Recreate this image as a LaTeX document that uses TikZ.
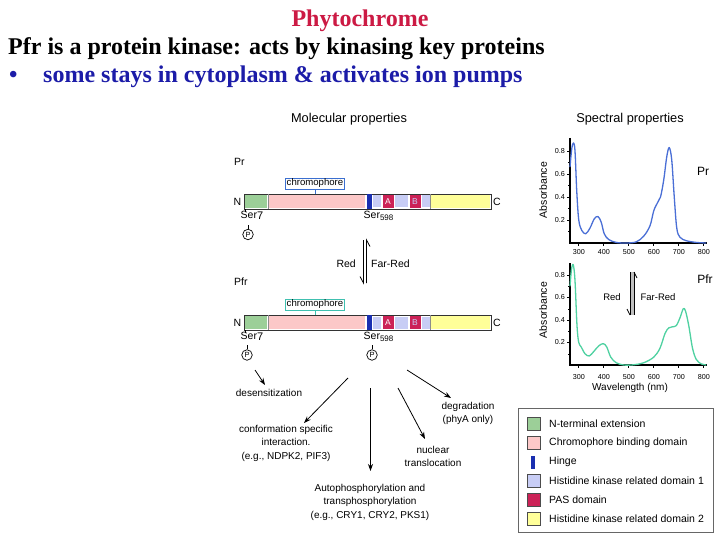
\documentclass[tikz,border=0pt]{standalone}
\usepackage{fontspec}
\setmainfont{Liberation Serif}
\setsansfont{Liberation Sans}
\usetikzlibrary{arrows.meta}
\definecolor{phyred}{HTML}{CC1A44}
\definecolor{navytxt}{HTML}{1C1CA8}
\definecolor{ntgreen}{HTML}{9CCF98}
\definecolor{cbpink}{HTML}{FCC8C8}
\definecolor{hingeblue}{HTML}{1A2FB0}
\definecolor{hklight}{HTML}{C8CDF5}
\definecolor{pascrim}{HTML}{CC2257}
\definecolor{hkyellow}{HTML}{FFFF99}
\definecolor{prblue}{HTML}{4A6FD6}
\definecolor{pfrgreen}{HTML}{4FD1A1}
\definecolor{chromblue}{HTML}{3B6FD0}
\definecolor{chromteal}{HTML}{40C0B0}
\tikzset{
  lab/.style={font=\sffamily\fontsize{10.5}{12}\selectfont, inner sep=0pt},
  labs/.style={font=\sffamily\fontsize{10}{13.5}\selectfont, inner sep=0pt, align=center},
  ttl/.style={font=\sffamily\fontsize{12.8}{14}\selectfont, inner sep=0pt},
  tick/.style={font=\sffamily\fontsize{7.2}{8}\selectfont, inner sep=0pt},
  barframe/.style={draw=black!80, line width=0.9pt, fill=white},
  pcirc/.style={draw=black, circle, minimum size=10.5pt, inner sep=0pt, font=\sffamily\fontsize{7.5}{8}\selectfont, line width=0.7pt},
  effect/.style={-{Stealth[length=7pt,width=5pt]}, line width=0.8pt, black},
  curve/.style={line width=1.3pt, line join=round},
  axis/.style={line width=1.1pt, black},
  legsw/.style={draw=black!70, line width=0.6pt},
}
\begin{document}
\begin{tikzpicture}[x=1pt,y=-1pt]
\useasboundingbox[fill=white] (0,0) rectangle (720,540);

% ---- header text
\node[anchor=base, font=\bfseries\fontsize{24}{28}\selectfont, text=phyred, inner sep=0] (title) at (360,27) {Phytochrome};
\node[anchor=base west, font=\bfseries\fontsize{24}{28}\selectfont, inner sep=0] (line1) at (8,55) {Pfr is a protein kinase: acts by kinasing key proteins};
\node[anchor=base west, font=\bfseries\fontsize{24}{28}\selectfont, text=navytxt, inner sep=0] (bullet) at (9,83) {\textbullet};
\node[anchor=base west, font=\bfseries\fontsize{24}{28}\selectfont, text=navytxt, inner sep=0] (line2) at (43,83) {some stays in cytoplasm \& activates ion pumps};

% ---- molecular properties
\node[ttl] (molt) at (349,119) {Molecular properties};
\node[lab, anchor=west] (prlab) at (234,162) {Pr};
\node[lab, anchor=west] (pfrlab) at (234,282) {Pfr};

\foreach \yt/\nm/\cc in {194/pr/chromblue, 315/pfr/chromteal}{
  \pgfmathsetmacro{\yb}{\yt+15}
  \draw[barframe] (244,\yt) rectangle (491,\yb);
  \fill[ntgreen]   (245,\yt+1) rectangle (267,\yb-1);
  \draw[black!45, line width=0.5pt] (268,\yt) -- (268,\yb);
  \fill[cbpink]    (269,\yt+1) rectangle (365,\yb-1);
  \fill[hingeblue] (367,\yt) rectangle (371.5,\yb);
  \fill[hklight]   (373,\yt+1.5) rectangle (380.5,\yb-1.5);
  \fill[pascrim]   (382.5,\yt+1) rectangle (393.5,\yb-1);
  \node[font=\sffamily\fontsize{8.5}{9}\selectfont, text=white, inner sep=0] (\nm A) at (388,\yt+7.5) {A};
  \fill[hklight]   (395,\yt+1.5) rectangle (408,\yb-1.5);
  \fill[pascrim]   (409.5,\yt+1) rectangle (420.5,\yb-1);
  \node[font=\sffamily\fontsize{8.5}{9}\selectfont, text=hklight, inner sep=0] (\nm B) at (415,\yt+7.5) {B};
  \fill[hklight]   (422,\yt+1.5) rectangle (429.5,\yb-1.5);
  \draw[black!45, line width=0.5pt] (430.3,\yt) -- (430.3,\yb);
  \fill[hkyellow]  (431,\yt+1) rectangle (490,\yb-1);
  \node[lab, anchor=center] (\nm N) at (237.5,\yt+7.5) {N};
  \node[lab, anchor=center] (\nm C) at (497,\yt+7.5) {C};
  \node[draw=\cc, line width=0.9pt, fill=white, inner xsep=1.5pt, inner ysep=1pt,
        font=\sffamily\fontsize{9.6}{10}\selectfont] (\nm chr) at (315,\yt-10.5) {chromophore};
  \coordinate (\nm bartop) at (315,\yt);
  \draw[\cc, line width=0.9pt] (\nm chr.south) -- (\nm bartop);
  \node[lab, anchor=north west] (\nm ser7) at (240.5,\yt+16.5) {Ser\raisebox{-0.35ex}{\fontsize{11}{11}\selectfont 7}};
  \node[lab, anchor=north west] (\nm ser598) at (363.5,\yt+16.5) {Ser\raisebox{-0.45ex}{\fontsize{8}{8}\selectfont 598}};
  \draw[black, line width=0.6pt] (245,\yb) -- (245,\yt+18);
}
% phosphates
\node[pcirc] (pP7) at (248,234.5) {P};
\draw[line width=0.6pt] (pP7.north) -- ++(0,-4);
\node[pcirc] (pfrP7) at (247,355) {P};
\draw[line width=0.6pt] (pfrP7.north) -- ++(0,-4);
\node[pcirc] (pfrP598) at (372,355) {P};
\draw[line width=0.6pt] (pfrP598.north) -- ++(0,-4);

% red / far-red conversion
\coordinate (cvtop) at (365,240);
\coordinate (cvbot) at (365,283);
\draw[line width=0.8pt] (363.5,240) -- (363.5,283) -- (360,276.5);
\draw[line width=0.8pt] (366.5,283) -- (366.5,240) -- (370,246.5);
\node[lab, anchor=east] (redl) at (356,264) {Red};
\node[lab, anchor=west] (farl) at (371,264) {Far-Red};

% ---- downstream effects
\coordinate (e1s) at (255,370); \coordinate (e1e) at (265,385);
\coordinate (e2s) at (348,378); \coordinate (e2e) at (304,423);
\coordinate (e3s) at (370.5,388); \coordinate (e3e) at (370.5,471);
\coordinate (e4s) at (398,388); \coordinate (e4e) at (425,439);
\coordinate (e5s) at (407,370); \coordinate (e5e) at (451,398);
\draw[effect] (e1s) -- (e1e);
\draw[effect] (e2s) -- (e2e);
\draw[effect] (e3s) -- (e3e);
\draw[effect] (e4s) -- (e4e);
\draw[effect] (e5s) -- (e5e);
\node[labs] (desens) at (269,393) {desensitization};
\node[labs] (conf) at (286,443) {conformation specific\\interaction.\\(e.g., NDPK2, PIF3)};
\node[labs] (auto) at (370,502) {Autophosphorylation and\\transphosphorylation\\(e.g., CRY1, CRY2, PKS1)};
\node[labs] (nuc) at (433,456.5) {nuclear\\translocation};
\node[labs] (degr) at (468,413.5) {degradation\\(phyA only)};

% ---- legend
\draw[black!60, line width=0.8pt] (518,408) rectangle (713,532);
\foreach \yy/\col/\txt/\nm in {424/ntgreen/N-terminal extension/lg1,
                             443/cbpink/Chromophore binding domain/lg2,
                             481/hklight/Histidine kinase related domain 1/lg4,
                             500/pascrim/PAS domain/lg5,
                             519/hkyellow/Histidine kinase related domain 2/lg6}{
  \fill[\col] (527,\yy-6.5) rectangle (540,\yy+6.5);
  \draw[legsw] (527,\yy-6.5) rectangle (540,\yy+6.5);
  \node[lab, anchor=west] (\nm) at (549,\yy) {\txt};
}
\fill[hingeblue] (530.5,455.5) rectangle (534.5,468.5);
\node[lab, anchor=west] (lg3) at (549,462) {Hinge};

% ---- spectral properties
\node[ttl] (spt) at (630,119) {Spectral properties};
% Pr spectrum
\draw[axis] (570,138) -- (570,243) -- (707,243);
\foreach \a/\yy in {0.8/151, 0.6/174, 0.4/197, 0.2/220}{
  \draw[line width=0.6pt] (567,\yy) -- (570,\yy);
  \node[tick, anchor=east] at (565,\yy) {\a};
}
\foreach \a/\yy in {0.7/162.5, 0.5/185.5, 0.3/208.5, 0.1/231.5}{\draw[line width=0.6pt] (568,\yy) -- (570,\yy);}
\foreach \w in {300,400,500,600,700,800}{
  \pgfmathsetmacro{\xx}{570+(\w-265)/4}
  \draw[line width=0.6pt] (\xx,243) -- (\xx,246);
  \node[tick] at (\xx,252) {\w};
}
\node[lab, rotate=90] (absPr) at (543,190) {Absorbance};
\node[font=\sffamily\fontsize{12}{13}\selectfont, inner sep=0] (prspec) at (703,171) {Pr};
\begin{scope}[shift={(503.75pt,-243pt)}, x=0.25pt, y=115pt]
\draw[curve, prblue] plot[smooth, tension=0.55] coordinates {
 (265,0.66) (272,0.82) (279,0.87) (285,0.8) (292,0.45) (300,0.2) (312,0.11) (328,0.08)
 (345,0.13) (362,0.21) (377,0.23) (390,0.18) (402,0.08) (420,0.03) (450,0.005) (490,0)
 (530,0.01) (560,0.06) (585,0.15) (600,0.28) (615,0.35) (627,0.4) (640,0.55) (652,0.75)
 (662,0.83) (672,0.72) (682,0.4) (692,0.13) (705,0.05) (730,0.02) (770,0.005) (810,0)};
\end{scope}

% Pfr spectrum
\draw[axis] (570,263) -- (570,365) -- (707,365);
\foreach \a/\yy in {0.8/275, 0.6/297.5, 0.4/320, 0.2/342.5}{
  \draw[line width=0.6pt] (567,\yy) -- (570,\yy);
  \node[tick, anchor=east] at (565,\yy) {\a};
}
\foreach \a/\yy in {0.7/286, 0.5/309, 0.3/331, 0.1/354}{\draw[line width=0.6pt] (568,\yy) -- (570,\yy);}
\foreach \w in {300,400,500,600,700,800}{
  \pgfmathsetmacro{\xx}{570+(\w-265)/4}
  \draw[line width=0.6pt] (\xx,365) -- (\xx,368);
  \node[tick] at (\xx,377) {\w};
}
\node[lab, rotate=90] (absPfr) at (543,310) {Absorbance};
\node[font=\sffamily\fontsize{10}{11}\selectfont, inner sep=0] (wl) at (630,388) {Wavelength (nm)};
\node[font=\sffamily\fontsize{12}{13}\selectfont, inner sep=0] (pfrspec) at (705,279) {Pfr};
\begin{scope}[shift={(503.75pt,-365pt)}, x=0.25pt, y=112.5pt]
\draw[curve, pfrgreen] plot[smooth, tension=0.55] coordinates {
 (265,0.7) (271,0.85) (278,0.89) (285,0.75) (293,0.35) (300,0.2) (310,0.16) (325,0.1)
 (342,0.08) (360,0.12) (380,0.17) (398,0.19) (412,0.16) (428,0.07) (450,0.02) (480,0)
 (520,0.002) (560,0.02) (600,0.07) (625,0.15) (645,0.28) (660,0.33) (675,0.34) (690,0.35)
 (705,0.42) (718,0.5) (727,0.48) (740,0.35) (755,0.15) (770,0.05) (790,0.01) (810,0)};
\end{scope}
% conversion arrow in spectrum
\fill[black!25] (630.5,272) rectangle (633.5,315);
\draw[line width=0.6pt] (630,315) -- (630,272);
\draw[line width=0.6pt] (634,272) -- (634,315);
\draw[line width=0.7pt] (630,315) -- (627,309);
\draw[line width=0.7pt] (634,272) -- (637,278);
\node[font=\sffamily\fontsize{9.5}{10}\selectfont, inner sep=0] (sred) at (612,297) {Red};
\node[font=\sffamily\fontsize{9.5}{10}\selectfont, inner sep=0] (sfar) at (658,297) {Far-Red};
\end{tikzpicture}
\end{document}
